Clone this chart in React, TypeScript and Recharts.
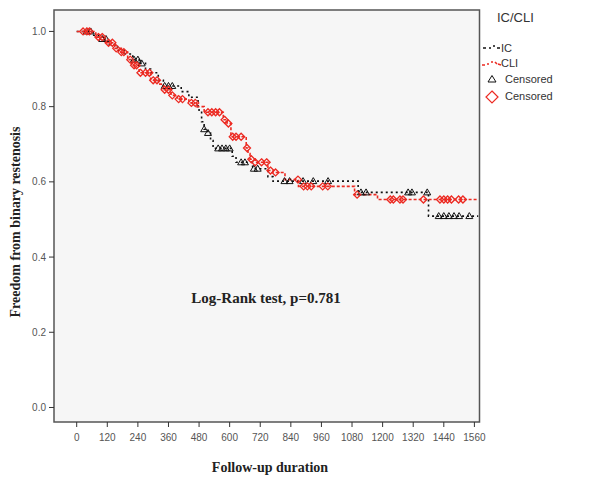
import React from 'react';
import { ComposedChart, Line, Scatter, XAxis, YAxis, CartesianGrid, ReferenceArea } from 'recharts';

// Kaplan-Meier step curves (time in days, survival)
const icTimes = [0, 60, 85, 120, 160, 190, 220, 245, 270, 290, 320, 340, 410, 440, 476, 480, 490, 500, 515, 525, 535, 610, 625, 690, 750, 770, 1104, 1380, 1575];
const icSurv = [1.0, 0.99, 0.98, 0.965, 0.95, 0.94, 0.925, 0.915, 0.9, 0.89, 0.87, 0.855, 0.84, 0.825, 0.8, 0.785, 0.76, 0.74, 0.73, 0.71, 0.689, 0.668, 0.652, 0.635, 0.614, 0.602, 0.572, 0.509, 0.509];

const cliTimes = [0, 75, 110, 150, 175, 200, 215, 245, 290, 320, 340, 370, 395, 440, 470, 500, 575, 590, 605, 665, 672, 680, 700, 750, 770, 817, 870, 1090, 1180, 1575];
const cliSurv = [1.0, 0.985, 0.97, 0.955, 0.945, 0.925, 0.91, 0.89, 0.87, 0.86, 0.845, 0.83, 0.82, 0.81, 0.8, 0.785, 0.765, 0.755, 0.72, 0.69, 0.675, 0.66, 0.652, 0.63, 0.625, 0.606, 0.588, 0.566, 0.553, 0.553];

// Censored observations
const icCensT = [40, 55, 100, 115, 225, 240, 255, 345, 360, 375, 500, 515, 555, 570, 585, 600, 645, 660, 695, 710, 815, 835, 888, 928, 986, 1115, 1135, 1300, 1315, 1375, 1420, 1440, 1460, 1480, 1500, 1540];
const icCensS = [1.0, 1.0, 0.98, 0.98, 0.925, 0.925, 0.915, 0.855, 0.855, 0.855, 0.74, 0.73, 0.689, 0.689, 0.689, 0.689, 0.652, 0.652, 0.635, 0.635, 0.602, 0.602, 0.602, 0.602, 0.602, 0.572, 0.572, 0.572, 0.572, 0.572, 0.509, 0.509, 0.509, 0.509, 0.509, 0.509];

const cliCensT = [25, 40, 50, 85, 100, 125, 140, 155, 175, 185, 210, 225, 235, 250, 270, 285, 300, 315, 345, 360, 375, 400, 415, 450, 465, 515, 530, 545, 560, 580, 595, 612, 625, 645, 668, 685, 700, 725, 745, 760, 780, 868, 890, 905, 920, 965, 985, 1100, 1230, 1242, 1268, 1280, 1360, 1425, 1440, 1455, 1470, 1498, 1515];
const cliCensS = [1.0, 1.0, 1.0, 0.985, 0.985, 0.97, 0.97, 0.955, 0.945, 0.945, 0.925, 0.91, 0.91, 0.89, 0.89, 0.89, 0.87, 0.87, 0.845, 0.845, 0.83, 0.82, 0.82, 0.81, 0.81, 0.785, 0.785, 0.785, 0.785, 0.765, 0.755, 0.72, 0.72, 0.72, 0.69, 0.66, 0.652, 0.652, 0.652, 0.63, 0.625, 0.606, 0.588, 0.588, 0.588, 0.588, 0.588, 0.566, 0.553, 0.553, 0.553, 0.553, 0.553, 0.553, 0.553, 0.553, 0.553, 0.553, 0.553];

const xTicks = [0, 120, 240, 360, 480, 600, 720, 840, 960, 1080, 1200, 1320, 1440, 1560];
const yTicks = [0, 0.2, 0.4, 0.6, 0.8, 1.0];

const icData = icTimes.map((t, i) => ({ t, s: icSurv[i] }));
const cliData = cliTimes.map((t, i) => ({ t, s: cliSurv[i] }));
const icCens = icCensT.map((t, i) => ({ t, s: icCensS[i] }));
const cliCens = cliCensT.map((t, i) => ({ t, s: cliCensS[i] }));

const RED = '#ec2a22';
const BLACK = '#111111';

const Triangle = (p: any) => {
  const { cx, cy } = p;
  if (cx == null || cy == null) return null;
  return <path d={`M${cx},${cy - 3.5} L${cx + 3.5},${cy + 2.5} L${cx - 3.5},${cy + 2.5} Z`} fill="none" stroke={BLACK} strokeWidth={1} />;
};
const Diamond = (p: any) => {
  const { cx, cy } = p;
  if (cx == null || cy == null) return null;
  return <path d={`M${cx},${cy - 3.5} L${cx + 3.5},${cy} L${cx},${cy + 3.5} L${cx - 3.5},${cy} Z`} fill="none" stroke={RED} strokeWidth={1.3} />;
};

const fmtY = (v: number) => v.toFixed(1);

export default function App() {
  return (
    <div style={{ position: 'absolute', left: 0, top: 0, width: 603, height: 479, background: '#fff', fontFamily: 'Liberation Sans, Arial, sans-serif' }}>
      <ComposedChart width={603} height={479} margin={{ top: 10, right: 123.5, left: 0, bottom: 22 }}>
        <CartesianGrid fill="#f6f6f6" horizontal={false} vertical={false} />
        <XAxis
          dataKey="t"
          type="number"
          domain={[-89, 1580]}
          allowDataOverflow
          ticks={xTicks}
          height={35}
          axisLine={false}
          tickLine={{ stroke: '#333' }}
          tickSize={5}
          tickMargin={7}
          tick={{ fontSize: 10, fill: '#555', fontFamily: 'Liberation Sans, Arial, sans-serif' }}
          interval={0}
        />
        <YAxis
          dataKey="s"
          type="number"
          domain={[-0.0386, 1.057]}
          allowDataOverflow
          ticks={yTicks}
          width={54}
          axisLine={false}
          tickLine={{ stroke: '#333' }}
          tickSize={5}
          tickMargin={3}
          tickFormatter={fmtY}
          tick={{ fontSize: 10, fill: '#555', fontFamily: 'Liberation Sans, Arial, sans-serif' }}
          interval={0}
        />
        <ReferenceArea x1={-89} x2={1580} y1={-0.0386} y2={1.057} fill="none" stroke="#555" strokeWidth={1.5} ifOverflow="visible" />
        <Line data={icData} dataKey="s" type="stepAfter" stroke={BLACK} strokeWidth={1.6} strokeDasharray="2 3" dot={false} isAnimationActive={false} />
        <Line data={cliData} dataKey="s" type="stepAfter" stroke={RED} strokeWidth={1.6} strokeDasharray="3 2" dot={false} isAnimationActive={false} />
        <Scatter data={icCens} dataKey="s" shape={<Triangle />} isAnimationActive={false} />
        <Scatter data={cliCens} dataKey="s" shape={<Diamond />} isAnimationActive={false} />
      </ComposedChart>

      <div style={{ position: 'absolute', left: 16, top: 222, transform: 'translate(-50%, -50%) rotate(-90deg)', whiteSpace: 'nowrap', fontFamily: 'Liberation Serif, "Times New Roman", serif', fontWeight: 'bold', fontSize: 14, color: '#222' }}>
        Freedom from binary restenosis
      </div>
      <div style={{ position: 'absolute', left: 270, top: 468, transform: 'translate(-50%, -50%)', whiteSpace: 'nowrap', fontFamily: 'Liberation Serif, "Times New Roman", serif', fontWeight: 'bold', fontSize: 14, color: '#222' }}>
        Follow-up duration
      </div>
      <div style={{ position: 'absolute', left: 266, top: 298, transform: 'translate(-50%, -50%)', whiteSpace: 'nowrap', fontFamily: 'Liberation Serif, "Times New Roman", serif', fontWeight: 'bold', fontSize: 15, color: '#222' }}>
        Log-Rank test, p=0.781
      </div>

      <div style={{ position: 'absolute', left: 497, top: 10, fontSize: 13, color: '#333' }}>IC/CLI</div>
      <svg style={{ position: 'absolute', left: 480, top: 38 }} width={120} height={70}>
        <path d="M3,10 L6,10 M9,10 L11,10 M13,8 L15,8 M17,10 L20,10" stroke={BLACK} strokeWidth={1.6} fill="none" />
        <text x={21} y={13.5} fontSize={11} fill="#333">IC</text>
        <path d="M2,27 L5,27 M7,26 L9,26 M11,24 L13,24 M15,24 L17,26 M18,26 L21,27" stroke={RED} strokeWidth={1.6} fill="none" />
        <text x={21} y={29} fontSize={11} fill="#333">CLI</text>
        <path d="M12,37.5 L16,44 L8,44 Z" fill="none" stroke={BLACK} strokeWidth={1} />
        <text x={25} y={45} fontSize={11} fill="#333">Censored</text>
        <path d="M12,53 L18,59 L12,65 L6,59 Z" fill="none" stroke={RED} strokeWidth={1.2} />
        <text x={25} y={62} fontSize={11} fill="#333">Censored</text>
      </svg>
    </div>
  );
}
